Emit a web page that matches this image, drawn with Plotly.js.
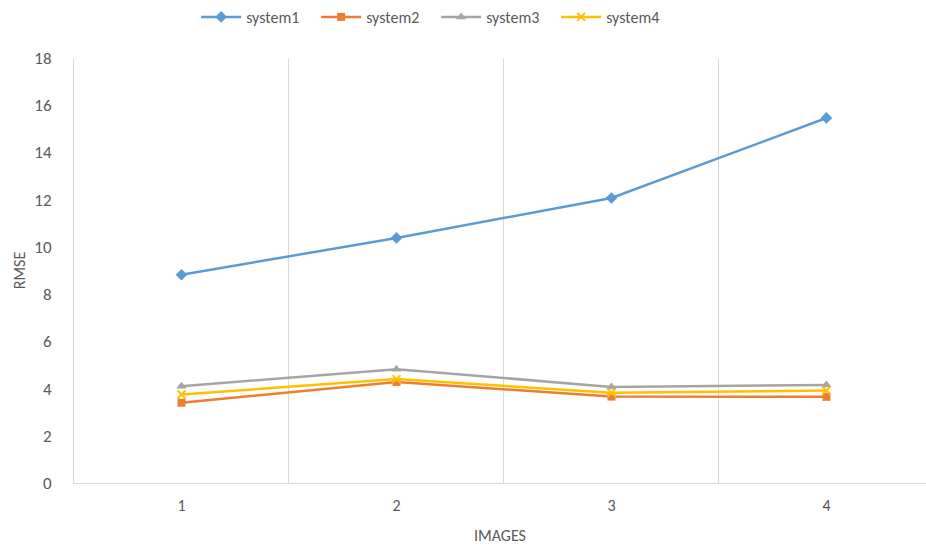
<!DOCTYPE html>
<html>
<head>
<meta charset="utf-8">
<script src="https://cdn.plot.ly/plotly-3.0.1.min.js"></script>
<style>html,body{margin:0;padding:0;background:#fff;}#chart{width:926px;height:551px;}</style>
</head>
<body>
<div id="chart"></div>
<script>
const images = [1, 2, 3, 4];
const tickLabels = ["1", "2", "3", "4"];
const system1 = [8.82, 10.38, 12.07, 15.46];
const system2 = [3.40, 4.28, 3.66, 3.65];
const system3 = [4.10, 4.82, 4.07, 4.15];
const system4 = [3.75, 4.40, 3.82, 3.92];

const names = ["system1", "system2", "system3", "system4"];
const series = [system1, system2, system3, system4];
const colors = ["#5B9BD5", "#ED7D31", "#A5A5A5", "#FFC000"];
const symbols = ["diamond", "square", "triangle-up", "x-thin-open"];
const sizes = [9, 8, 9, 8];

const traces = series.map((s, i) => ({
  x: images,
  y: s,
  name: names[i],
  type: "scatter",
  mode: "lines+markers",
  line: {color: colors[i], width: 2.5},
  marker: {symbol: symbols[i], size: sizes[i], color: colors[i], line: {color: colors[i], width: i === 3 ? 2 : 0}}
}));

const font = "Carlito, Lato, 'Open Sans', sans-serif";

const layout = {
  width: 926,
  height: 551,
  paper_bgcolor: "#fff",
  plot_bgcolor: "#fff",
  margin: {l: 74, r: 0, t: 58, b: 68},
  font: {family: font, size: 16, color: "#595959"},
  showlegend: true,
  legend: {orientation: "h", x: 0.471, xanchor: "center", xref: "container", y: 1, yanchor: "top", yref: "container",
           font: {size: 16, color: "#595959"}, itemwidth: 40, entrywidth: 65, entrywidthmode: "pixels", tracegroupgap: 0},
  xaxis: {
    range: [0.5, 4.463],
    tickvals: images,
    ticktext: tickLabels,
    tickfont: {size: 16},
    showgrid: false,
    zeroline: false,
    showline: true,
    linecolor: "#D9D9D9",
    linewidth: 1,
    ticks: "",
    ticklabelstandoff: 8,
    minor: {tick0: 0.5, dtick: 1, showgrid: true, gridcolor: "#D9D9D9", gridwidth: 1, ticks: ""},
    title: {text: "IMAGES", font: {size: 16, color: "#595959"}, standoff: 15},
    fixedrange: true
  },
  yaxis: {
    range: [0, 18],
    dtick: 2,
    tick0: 0,
    tickfont: {size: 17},
    showgrid: false,
    zeroline: false,
    showline: true,
    linecolor: "#D9D9D9",
    linewidth: 1,
    ticks: "",
    ticklabelstandoff: 18,
    title: {text: "RMSE", font: {size: 16, color: "#595959"}, standoff: 4},
    fixedrange: true
  }
};

Plotly.newPlot("chart", traces, layout, {displayModeBar: false, staticPlot: true});
</script>
</body>
</html>
